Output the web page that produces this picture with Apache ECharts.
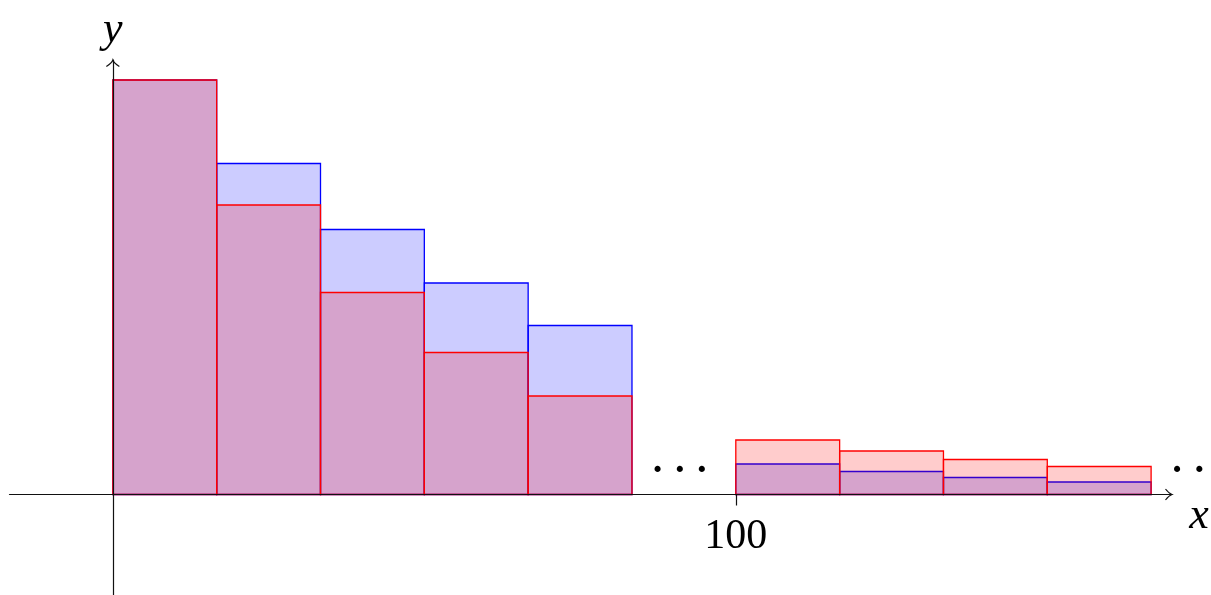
<!DOCTYPE html>
<html><head><meta charset="utf-8">
<script src="https://cdn.jsdelivr.net/npm/echarts@6/dist/echarts.min.js"></script>
<style>html,body{margin:0;padding:0;background:#fff}#c{width:1211px;height:595px}</style>
</head><body><div id="c"></div>
<script>
// ---- data ----
const binWidth = 100 / 6;
const binStarts = [0, 100/6, 200/6, 300/6, 400/6, 100, 100 + 100/6, 100 + 200/6, 100 + 300/6];
const blueValues = [4.145, 3.31, 2.65, 2.115, 1.69, 0.305, 0.23, 0.17, 0.125];
const redValues  = [4.145, 2.895, 2.02, 1.42, 0.985, 0.545, 0.435, 0.35, 0.28];
const xTickValues = [100];
const xTickLabels = ['100'];
const xAxisName = 'x';
const yAxisName = 'y';
const ellipsisX = [91.0, 174.4];
const ellipsisY = 0.225;

// ---- chart ----
const chart = echarts.init(document.getElementById('c'), null, {renderer: 'canvas'});
const serif = 'Liberation Serif';

function barSeries(name, values, fill, stroke, z) {
  return {
    type: 'custom', name: name, z: z, clip: false,
    data: binStarts.map((s, i) => [s, s + binWidth, values[i]]),
    encode: {x: [0, 1], y: 2},
    renderItem: function (params, api) {
      const p0 = api.coord([api.value(0), api.value(2)]);
      const p1 = api.coord([api.value(1), 0]);
      return {
        type: 'rect',
        shape: {x: p0[0], y: p0[1], width: p1[0] - p0[0], height: p1[1] - p0[1]},
        style: {fill: fill, stroke: stroke, lineWidth: 1.3}
      };
    }
  };
}

const decoSeries = {
  type: 'custom', z: 10, clip: false, silent: true,
  data: [[0, 0]],
  encode: {x: 0, y: 1},
  renderItem: function (params, api) {
    const cs = params.coordSys;
    const o = api.coord([0, 0]);
    const xt = [cs.x + cs.width, o[1]];
    const yt = [o[0], cs.y];
    const children = [];
    // x arrow (open TikZ style)
    children.push({type: 'path', shape: {pathData:
      'M' + (xt[0] - 6.5) + ' ' + (xt[1] - 5.5) + ' Q' + (xt[0] - 3) + ' ' + (xt[1] - 1) + ' ' + xt[0] + ' ' + xt[1] +
      ' Q' + (xt[0] - 3) + ' ' + (xt[1] + 1) + ' ' + (xt[0] - 6.5) + ' ' + (xt[1] + 5.5)},
      style: {fill: null, stroke: '#111', lineWidth: 1.2}});
    // y arrow
    children.push({type: 'path', shape: {pathData:
      'M' + (yt[0] - 6.5) + ' ' + (yt[1] + 6.5) + ' Q' + (yt[0] - 1) + ' ' + (yt[1] + 3) + ' ' + yt[0] + ' ' + yt[1] +
      ' Q' + (yt[0] + 1) + ' ' + (yt[1] + 3) + ' ' + (yt[0] + 6.5) + ' ' + (yt[1] + 6.5)},
      style: {fill: null, stroke: '#111', lineWidth: 1.2}});
    // axis names
    children.push({type: 'text', x: yt[0], y: yt[1] - 30, style: {text: yAxisName, font: 'italic 44px "' + serif + '"',
      fill: '#000', align: 'center', verticalAlign: 'middle'}});
    children.push({type: 'text', x: xt[0] + 27, y: xt[1] + 22, style: {text: xAxisName, font: 'italic 44px "' + serif + '"',
      fill: '#000', align: 'center', verticalAlign: 'middle'}});
    // tick labels
    xTickValues.forEach(function (v, i) {
      const p = api.coord([v, 0]);
      children.push({type: 'text', x: p[0], y: p[1] + 42, style: {text: xTickLabels[i], font: '42px "' + serif + '"',
        fill: '#000', align: 'center', verticalAlign: 'middle'}});
    });
    // ellipses
    ellipsisX.forEach(function (ex) {
      const p = api.coord([ex, ellipsisY]);
      children.push({type: 'text', x: p[0], y: p[1], style: {text: '\u00B7 \u00B7 \u00B7', font: 'bold 38px "' + serif + '"',
        fill: '#000', align: 'center', verticalAlign: 'middle'}});
    });
    return {type: 'group', children: children};
  }
};

chart.setOption({
  animation: false,
  backgroundColor: '#fff',
  grid: {left: 9.5, right: 39, top: 60, bottom: 0, containLabel: false, outerBoundsMode: 'none'},
  xAxis: {
    type: 'value', min: -16.59, max: 170.02, z: 5,
    splitLine: {show: false},
    axisLine: {show: true, onZero: true, lineStyle: {color: '#111', width: 1.2}},
    axisTick: {show: true, customValues: xTickValues, length: 11, lineStyle: {color: '#111', width: 1.2}},
    axisLabel: {show: false}
  },
  yAxis: {
    type: 'value', min: -1.005, max: 4.345, z: 5,
    splitLine: {show: false},
    axisLine: {show: true, onZero: true, lineStyle: {color: '#111', width: 1.2}},
    axisTick: {show: false},
    axisLabel: {show: false}
  },
  series: [
    barSeries('blue', blueValues, 'rgba(0,0,255,0.2)', '#0000ff', 2),
    barSeries('red', redValues, 'rgba(255,0,0,0.2)', '#ff0000', 3),
    decoSeries
  ]
});
</script></body></html>
